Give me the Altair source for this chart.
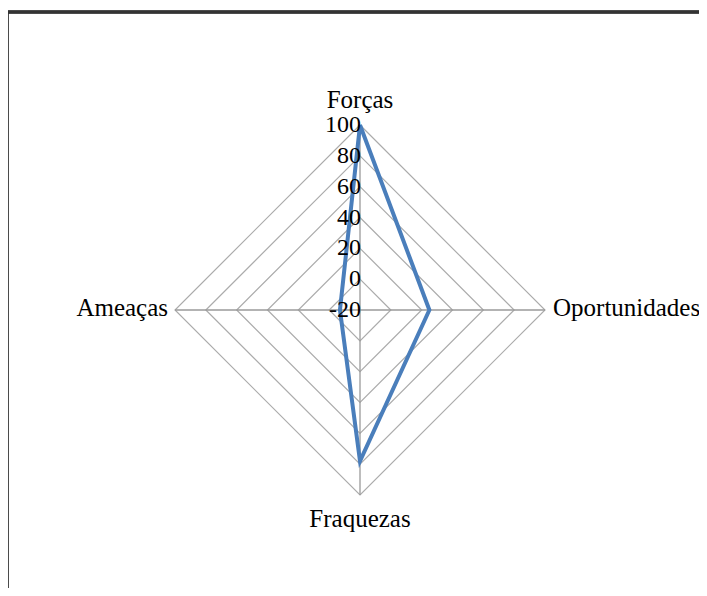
import altair as alt
import pandas as pd

categories = ["Forças", "Oportunidades", "Fraquezas", "Ameaças"]
values = [100, 25, 78, -7]
ticks = [-20, 0, 20, 40, 60, 80, 100]
r_min = -20
r_max = 100

n = len(categories)

series_df = pd.DataFrame({
    "cat": categories + [categories[0]],
    "value": values + [values[0]],
    "idx": list(range(n)) + [n],
})

ring_rows = []
for t in ticks:
    for k in range(n + 1):
        ring_rows.append({"tick": t, "idx": k})
rings_df = pd.DataFrame(ring_rows)

cats_df = pd.DataFrame({"cat": categories, "idx": list(range(n))})
ticks_df = pd.DataFrame({"tick": ticks})

# pixel geometry
ppu = 185.0 / (r_max - r_min)
W, H = 691, 576
cx, cy = 352, 298
xdom = [-cx / ppu, (W - cx) / ppu]
ydom = [-(H - cy) / ppu, cy / ppu]

xs = alt.Scale(domain=xdom, nice=False, zero=False)
ys = alt.Scale(domain=ydom, nice=False, zero=False)

ang = f"datum.idx * 2 * PI / {n}"

rings = alt.Chart(rings_df).transform_calculate(
    r=f"datum.tick - ({r_min})"
).transform_calculate(
    px=f"datum.r * sin({ang})", py=f"datum.r * cos({ang})"
).mark_line(color="#ababab", strokeWidth=1.2).encode(
    x=alt.X("px:Q", scale=xs, axis=None),
    y=alt.Y("py:Q", scale=ys, axis=None),
    detail="tick:N",
    order="idx:Q",
)

spokes = alt.Chart(cats_df).transform_calculate(
    px0="0", py0="0",
    px=f"{r_max - r_min} * sin({ang})", py=f"{r_max - r_min} * cos({ang})"
).mark_rule(color="#9a9a9a", strokeWidth=1.3).encode(
    x=alt.X("px0:Q", scale=xs, axis=None),
    y=alt.Y("py0:Q", scale=ys, axis=None),
    x2="px:Q",
    y2="py:Q",
)

series = alt.Chart(series_df).transform_calculate(
    r=f"datum.value - ({r_min})"
).transform_calculate(
    px=f"datum.r * sin({ang})", py=f"datum.r * cos({ang})"
).mark_line(color="#4a7ebb", strokeWidth=4, strokeJoin="miter").encode(
    x=alt.X("px:Q", scale=xs, axis=None),
    y=alt.Y("py:Q", scale=ys, axis=None),
    order="idx:Q",
)

tick_labels = alt.Chart(ticks_df).transform_calculate(
    px="0", py=f"datum.tick - ({r_min})", lab="'' + datum.tick"
).mark_text(align="right", baseline="middle", dx=1, font="Liberation Serif",
            fontSize=24, color="#000000").encode(
    x=alt.X("px:Q", scale=xs, axis=None),
    y=alt.Y("py:Q", scale=ys, axis=None),
    text="lab:N",
)

def cat_label(i, align, baseline, dx, dy):
    return alt.Chart(cats_df).transform_filter(f"datum.idx == {i}").transform_calculate(
        px=f"{r_max - r_min} * sin({ang})", py=f"{r_max - r_min} * cos({ang})"
    ).mark_text(align=align, baseline=baseline, dx=dx, dy=dy, font="Liberation Serif",
                fontSize=25, color="#000000").encode(
        x=alt.X("px:Q", scale=xs, axis=None),
        y=alt.Y("py:Q", scale=ys, axis=None),
        text="cat:N",
    )

labels = [
    cat_label(0, "center", "alphabetic", 0, -17),
    cat_label(1, "left", "middle", 8, -2),
    cat_label(2, "center", "top", 0, 12),
    cat_label(3, "right", "middle", -7, -2),
]

# frame: only left and top edges fall inside the picture
frame_left = alt.Chart(ticks_df).mark_rule(color="#333333", strokeWidth=2.5).encode(
    x=alt.value(-1), y=alt.value(-1), y2=alt.value(H)
)
frame_top = alt.Chart(ticks_df).mark_rule(color="#333333", strokeWidth=2.5).encode(
    x=alt.value(-1), x2=alt.value(W), y=alt.value(0)
)

chart = alt.layer(rings, spokes, series, tick_labels, *labels, frame_left, frame_top).properties(
    width=W, height=H,
    autosize=alt.AutoSizeParams(type="none"),
    padding={"left": 0, "top": 4, "right": 0, "bottom": 0},
).configure_view(stroke=None)

chart.save("out.html", embed_options={"renderer": "svg", "actions": False})
